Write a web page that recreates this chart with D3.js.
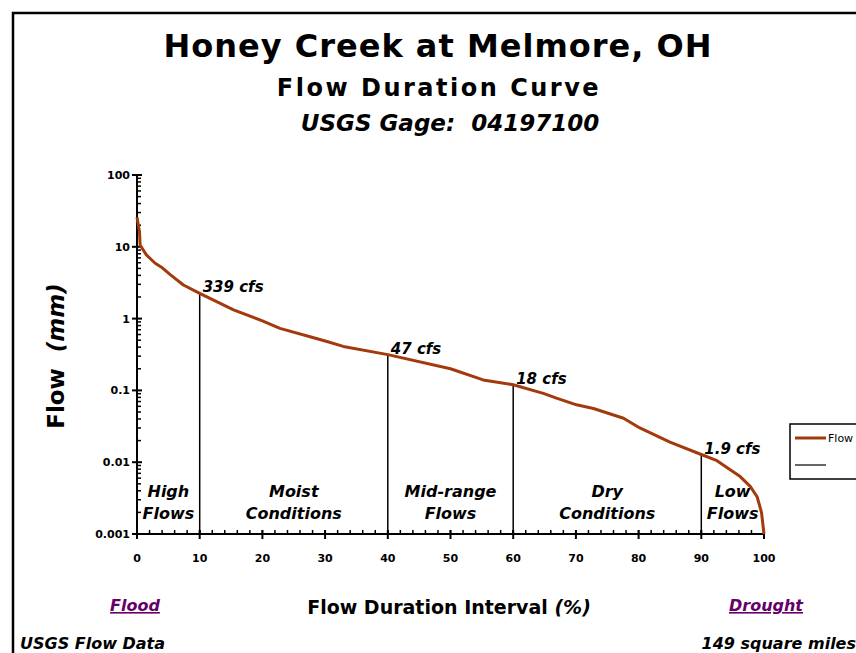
<!DOCTYPE html>
<html>
<head>
<meta charset="utf-8">
<script src="https://cdn.jsdelivr.net/npm/d3@7"></script>
<style>
  body { margin: 0; background: #fff; }
  text { font-family: "Comic Sans MS", "DejaVu Sans", sans-serif; }
</style>
</head>
<body>
<svg width="856" height="653"></svg>
<script>
// flow duration curve
const pct = [0, 0.4, 0.5, 1.5, 2.9, 3.9, 5.3, 7.4, 10, 15.4, 20, 22.8, 27.6, 30.3, 32.9,
  40, 50, 55.2, 60, 64.8, 66.9, 70.1, 72.8, 77.6, 80.2, 85, 90, 92.5, 96.2, 97.8, 98.9, 99.6, 100];
const flowMm = [25.7, 16.2, 10.6, 7.7, 5.9, 5.2, 4.1, 2.94, 2.25, 1.32, 0.93, 0.73, 0.56, 0.48, 0.41,
  0.315, 0.2, 0.14, 0.12, 0.091, 0.078, 0.063, 0.056, 0.041, 0.030, 0.019, 0.0128, 0.0105, 0.0063, 0.0046, 0.0033, 0.002, 0.001];

const markerPct = [10, 40, 60, 90];
const markerLabels = ['339 cfs', '47 cfs', '18 cfs', '1.9 cfs'];

const zones = [
  { mid: 5, lines: ['High', 'Flows'] },
  { mid: 25, lines: ['Moist', 'Conditions'] },
  { mid: 50, lines: ['Mid-range', 'Flows'] },
  { mid: 75, lines: ['Dry', 'Conditions'] },
  { mid: 95, lines: ['Low', 'Flows'] }
];

const xTicks = [0, 10, 20, 30, 40, 50, 60, 70, 80, 90, 100];
const yTicks = [100, 10, 1, 0.1, 0.01, 0.001];
const yTickLabels = ['100', '10', '1', '0.1', '0.01', '0.001'];

const svg = d3.select('svg');
const curveColor = '#a33a0c';

// frame
svg.append('rect')
    .attr('x', 13).attr('y', 13)
    .attr('width', 900).attr('height', 700)
    .attr('fill', 'none')
    .attr('stroke', '#000')
    .attr('stroke-width', 2.5);

const xScale = d3.scaleLinear().domain([0, 100]).range([137, 764]);
const yScale = d3.scaleLog().domain([0.001, 100]).range([534, 175]);

// titles
svg.append('text').attr('x', 438).attr('y', 57).attr('text-anchor', 'middle')
    .attr('font-size', 32).attr('font-weight', 'bold').attr('letter-spacing', 1)
    .text('Honey Creek at Melmore, OH');
svg.append('text').attr('x', 439).attr('y', 96).attr('text-anchor', 'middle')
    .attr('font-size', 24).attr('font-weight', 'bold').attr('letter-spacing', 2.5)
    .text('Flow Duration Curve');
svg.append('text').attr('x', 450).attr('y', 131).attr('text-anchor', 'middle')
    .attr('font-size', 23).attr('font-weight', 'bold').attr('font-style', 'italic')
    .attr('xml:space', 'preserve').text('USGS Gage:  04197100');

// y axis
const yMinor = [];
for (let e = -3; e < 2; e++) {
  for (let m = 2; m <= 9; m++) yMinor.push(m * Math.pow(10, e));
}
const gy = svg.append('g');
gy.append('line').attr('x1', 137).attr('x2', 137)
    .attr('y1', yScale(100)).attr('y2', yScale(0.001))
    .attr('stroke', '#000').attr('stroke-width', 2);
gy.selectAll('line.minor').data(yMinor).join('line')
    .attr('class', 'minor')
    .attr('x1', 137).attr('x2', 141)
    .attr('y1', d => yScale(d)).attr('y2', d => yScale(d))
    .attr('stroke', '#000').attr('stroke-width', 1.5);
gy.selectAll('line.major').data(yTicks).join('line')
    .attr('class', 'major')
    .attr('x1', 132).attr('x2', 142)
    .attr('y1', d => yScale(d)).attr('y2', d => yScale(d))
    .attr('stroke', '#000').attr('stroke-width', 2);
gy.selectAll('text').data(yTicks).join('text')
    .attr('x', 130).attr('y', d => yScale(d) + 4)
    .attr('text-anchor', 'end')
    .attr('font-size', 11).attr('font-weight', 'bold')
    .text((d, i) => yTickLabels[i]);

// x axis
const xMinor = d3.range(0, 101, 2);
const gx = svg.append('g');
gx.append('line').attr('x1', xScale(0)).attr('x2', xScale(100))
    .attr('y1', 534).attr('y2', 534)
    .attr('stroke', '#000').attr('stroke-width', 2);
gx.selectAll('line.minor').data(xMinor).join('line')
    .attr('class', 'minor')
    .attr('x1', d => xScale(d)).attr('x2', d => xScale(d))
    .attr('y1', 530).attr('y2', 534)
    .attr('stroke', '#000').attr('stroke-width', 1.5);
gx.selectAll('line.major').data(xTicks).join('line')
    .attr('class', 'major')
    .attr('x1', d => xScale(d)).attr('x2', d => xScale(d))
    .attr('y1', 530).attr('y2', 539)
    .attr('stroke', '#000').attr('stroke-width', 2);
gx.selectAll('text').data(xTicks).join('text')
    .attr('x', d => xScale(d)).attr('y', 562)
    .attr('text-anchor', 'middle')
    .attr('font-size', 11).attr('font-weight', 'bold')
    .text(d => d);

// axis titles
svg.append('text')
    .attr('transform', 'translate(64, 356) rotate(-90)')
    .attr('text-anchor', 'middle')
    .attr('font-size', 23).attr('font-weight', 'bold')
    .attr('xml:space', 'preserve')
    .call(t => {
      t.append('tspan').text('Flow  ');
      t.append('tspan').attr('font-style', 'italic').text('(mm)');
    });
svg.append('text')
    .attr('x', 449).attr('y', 614)
    .attr('text-anchor', 'middle')
    .attr('font-size', 19).attr('font-weight', 'bold')
    .call(t => {
      t.append('tspan').text('Flow Duration Interval ');
      t.append('tspan').attr('font-style', 'italic').text('(%)');
    });

// flood / drought
[['Flood', 135], ['Drought', 766]].forEach(([label, x]) => {
  svg.append('text')
      .attr('x', x).attr('y', 611)
      .attr('text-anchor', 'middle')
      .attr('font-size', 16).attr('font-weight', 'bold').attr('font-style', 'italic')
      .attr('fill', '#660066')
      .attr('text-decoration', 'underline')
      .text(label);
});

svg.append('text').attr('x', 20).attr('y', 649)
    .attr('font-size', 16).attr('font-weight', 'bold').attr('font-style', 'italic')
    .text('USGS Flow Data');
svg.append('text').attr('x', 856).attr('y', 649).attr('text-anchor', 'end')
    .attr('font-size', 16).attr('font-weight', 'bold').attr('font-style', 'italic')
    .text('149 square miles');

// zone dividers
markerPct.forEach((p, i) => {
  const v = flowMm[pct.indexOf(p)];
  svg.append('line')
      .attr('x1', xScale(p)).attr('x2', xScale(p))
      .attr('y1', yScale(v)).attr('y2', yScale(0.001))
      .attr('stroke', '#000').attr('stroke-width', 1.5);
  svg.append('text')
      .attr('x', xScale(p) + 3).attr('y', yScale(v) - 1)
      .attr('font-size', 15).attr('font-weight', 'bold').attr('font-style', 'italic')
      .text(markerLabels[i]);
});

// zone labels
zones.forEach(z => {
  z.lines.forEach((s, j) => {
    svg.append('text')
        .attr('x', xScale(z.mid)).attr('y', 497 + j * 22)
        .attr('text-anchor', 'middle')
        .attr('font-size', 16).attr('font-weight', 'bold').attr('font-style', 'italic')
        .text(s);
  });
});

// curve
const line = d3.line()
    .x((d, i) => xScale(pct[i]))
    .y(d => yScale(d));
svg.append('path')
    .attr('d', line(flowMm))
    .attr('fill', 'none')
    .attr('stroke', curveColor)
    .attr('stroke-width', 3)
    .attr('stroke-linejoin', 'round');

// legend
const lg = svg.append('g').attr('transform', 'translate(790, 424)');
lg.append('rect').attr('width', 80).attr('height', 55)
    .attr('fill', '#fff').attr('stroke', '#000').attr('stroke-width', 1.5);
lg.append('line').attr('x1', 5).attr('x2', 36).attr('y1', 14).attr('y2', 14)
    .attr('stroke', curveColor).attr('stroke-width', 3);
lg.append('text').attr('x', 38).attr('y', 18)
    .attr('font-family', 'Liberation Sans, Arial, sans-serif')
    .attr('font-size', 11).text('Flow');
lg.append('line').attr('x1', 5).attr('x2', 36).attr('y1', 41).attr('y2', 41)
    .attr('stroke', '#000').attr('stroke-width', 1.2);
</script>
</body>
</html>
